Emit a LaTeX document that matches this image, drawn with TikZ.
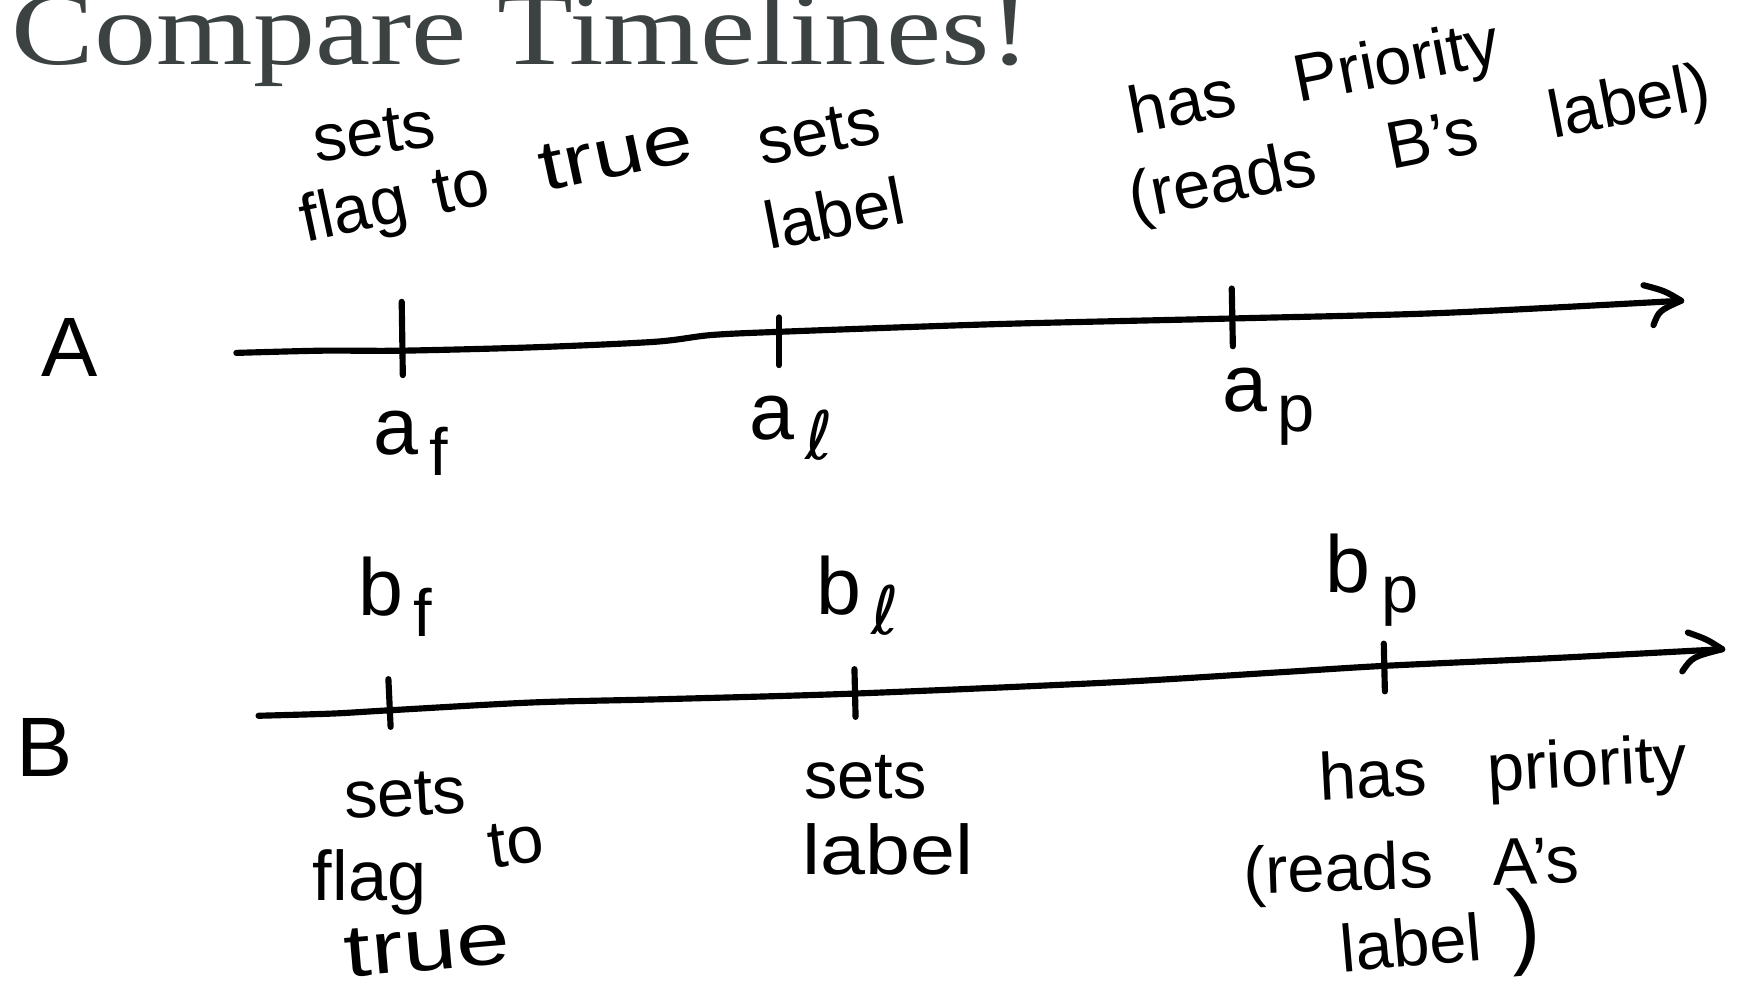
\documentclass[tikz,border=0pt]{standalone}
\usepackage{fontspec}
\newfontfamily\hwfont{Liberation Sans}
\newfontfamily\titlefont{Liberation Serif}
\newfontfamily\symfont{DejaVu Sans}
\definecolor{titlegray}{RGB}{60,66,66}
\newcommand\lsub[1]{\hspace{3pt}\raisebox{-0.25em}{\fontsize{19}{19}\selectfont #1}}
\newcommand\hwtext{\hwfont\fontsize{19}{24}\selectfont\spaceskip 0.9em\relax}
\newcommand\hwmid{\hwfont\fontsize{19}{24}\selectfont\spaceskip 1.1em\relax}
\newcommand\bigparen[1]{{\fontsize{27}{27}\selectfont #1}}
\tikzset{
  hw/.style={inner sep=0pt, text=black, align=center, font=\hwtext},
  sym/.style={inner sep=0pt, text=black, font=\hwfont\fontsize{23}{26}\selectfont},
  tl/.style={line width=1.75pt, line cap=round, line join=round},
}
\begin{document}
\begin{tikzpicture}[x=0.11097mm,y=-0.11097mm]
\useasboundingbox (0,0) rectangle (1568,894);
\fill[white] (0,0) rectangle (1568,894);

% title
\node[anchor=base west, inner sep=0pt, text=titlegray,
  font=\titlefont\fontsize{29.5}{30}\selectfont] (title) at (10,58)
  {\resizebox{290pt}{\height}{Compare Timelines!}};

% ---------- timeline A ----------
\node[sym, font=\hwfont\fontsize{24}{26}\selectfont] (A) at (63,313) {A};
\coordinate (As) at (213,318);
\coordinate (Atip) at (1515,271);
\draw[tl] plot[smooth, tension=0.5] coordinates
  {(213,318) (290,316) (362,316) (480,313) (590,308) (640,302) (702,299) (900,292) (1110,287) (1300,282) (1515,271)};
\draw[tl] (1481,257) .. controls (1500,262) .. (Atip) .. controls (1495,280) .. (1490,293);
% ticks
\coordinate (af) at (362,316);
\coordinate (al) at (702,299);
\coordinate (ap) at (1110,287);
\draw[tl] (362,272) -- (363,338);
\draw[tl] (702,286) -- (702,329);
\draw[tl] (1110,260) -- (1111,312);
% tick labels
\node[sym, anchor=base west] (laf) at (336,410) {a\lsub{f}};
\node[sym, anchor=base west] (lal) at (675,396) {a\lsub{{\symfont ℓ}}};
\node[sym, anchor=base west] (lap) at (1101,371) {a\lsub{p}};
% descriptions
\node[hw, rotate=8] (a1) at (337,120) {sets};
\node[hw, rotate=12] (a2) at (448,166) {flag\hspace{8pt}to\hspace{15pt}\scalebox{1.35}[1.05]{true}};
\node[hw, rotate=11] (a3) at (745,157) {sets\\label};
\node[hw, rotate=11] (a4) at (1185,74) {has Priority};
\node[hw, rotate=11, font=\hwmid] (a5) at (1280,132) {(reads B’s label)};

% ---------- timeline B ----------
\node[sym, font=\hwfont\fontsize{24}{26}\selectfont] (B) at (40,674) {B};
\coordinate (Bs) at (233,645);
\coordinate (Btip) at (1552,585);
\draw[tl] plot[smooth, tension=0.5] coordinates
  {(233,645) (300,643) (352,640) (480,633) (600,630) (770,625) (1000,615) (1150,606) (1248,600) (1400,593) (1552,585)};
\draw[tl] (1521,570) .. controls (1538,576) .. (Btip) .. controls (1525,592) .. (1516,605);
% ticks
\draw[tl] (350,612) -- (352,655);
\draw[tl] (770,603) -- (771,646);
\draw[tl] (1247,580) -- (1248,623);
% tick labels
\node[sym, anchor=base west] (lbf) at (322,555) {b\lsub{f}};
\node[sym, anchor=base west] (lbl) at (735,554) {b\lsub{{\symfont ℓ}}};
\node[sym, anchor=base west] (lbp) at (1194,534) {b\lsub{p}};
% descriptions
\node[hw, rotate=3] (b1) at (365,716) {sets};
\node[hw, rotate=8] (b2) at (465,760) {to};
\node[hw, font=\hwfont\fontsize{20}{24}\selectfont] (b3) at (333,795) {flag};
\node[hw, rotate=5, font=\hwfont\fontsize{21}{24}\selectfont] (b4) at (385,853) {\scalebox{1.3}[1]{true}};
\node[hw] (b5) at (780,700) {sets};
\node[hw, font=\hwfont\fontsize{20}{24}\selectfont] (b6) at (800,765) {\scalebox{1.15}[1]{label}};
\node[hw, rotate=3] (b7) at (1355,697) {has priority};
\node[hw, rotate=2] (b8) at (1272,785) {(reads A’s};
\node[hw, rotate=5] (b9) at (1298,846) {label\hspace{8pt}\bigparen{)}};
\end{tikzpicture}
\end{document}
